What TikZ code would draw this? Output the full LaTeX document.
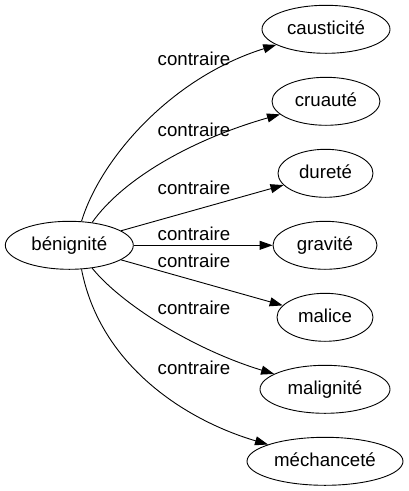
\documentclass[tikz,border=0pt]{standalone}
\usepackage{fontspec}
\setmainfont{Liberation Sans}
\usetikzlibrary{shapes.geometric,arrows.meta}
\begin{document}
\begin{tikzpicture}[x=1pt,y=-1pt,
  word/.style={ellipse,draw,line width=0.9pt,inner sep=0pt,minimum height=48pt,
    text height=15pt,text depth=4pt,font=\fontsize{18.67}{22}\selectfont},
  lbl/.style={anchor=base,inner sep=0pt,font=\fontsize{18.67}{22}\selectfont},
  rel/.style={line width=0.9pt,-{Triangle[length=13pt,width=9pt]}}]
\useasboundingbox (0,0) rectangle (408,491);
\node[word,minimum width=128pt] (src) at (69.3,245.3) {bénignité};
\node[word,minimum width=128pt] (causticite) at (326,29.3) {causticité};
\node[word,minimum width=108pt] (cruaute) at (326,101.3) {cruauté};
\node[word,minimum width=95pt] (durete) at (325.5,173.3) {dureté};
\node[word,minimum width=104pt] (gravite) at (325,245.3) {gravité};
\node[word,minimum width=96pt] (malice) at (325,317.3) {malice};
\node[word,minimum width=130pt] (malignite) at (325,389.3) {malignité};
\node[word,minimum width=156pt] (mechancete) at (325,461.3) {méchanceté};
\node[lbl] (l1) at (194,65) {contraire};
\node[lbl] (l2) at (194,136) {contraire};
\node[lbl] (l3) at (194,194) {contraire};
\node[lbl] (l4) at (194,240) {contraire};
\node[lbl] (l5) at (194,267) {contraire};
\node[lbl] (l6) at (194,314) {contraire};
\node[lbl] (l7) at (194,374) {contraire};
\draw[rel] (src.63) .. controls (100,160) and (170,78) .. (causticite);
\draw[rel] (src.45) .. controls (122,180) and (190,140) .. (cruaute);
\draw[rel] (src) -- (durete);
\draw[rel] (src) -- (gravite);
\draw[rel] (src) -- (malice);
\draw[rel] (src.-45) .. controls (122,305) and (195,350) .. (malignite);
\draw[rel] (src.-63) .. controls (100,365) and (185,420) .. (mechancete);
\end{tikzpicture}
\end{document}
